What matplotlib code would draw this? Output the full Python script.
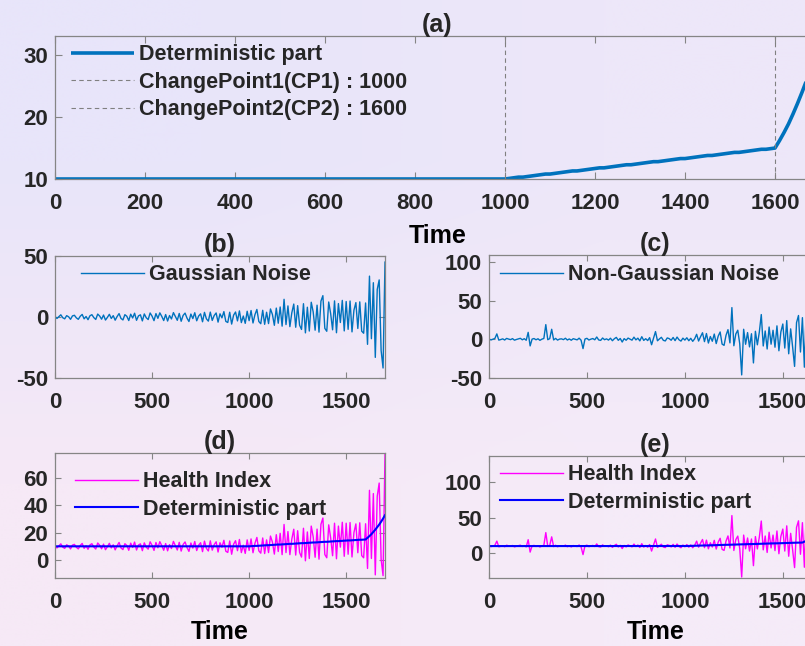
import matplotlib
import numpy as np

matplotlib.use("Agg")
import matplotlib.pyplot as plt
from matplotlib.lines import Line2D


# figure size in pixels (dpi 100)
W, H = 805, 646

# time axis: one sample every 10 time units
time = np.arange(0, 1701, 10)

change_points = [1000, 1600]

# deterministic degradation: flat, linear after CP1, exponential after CP2
deterministic = (
    [10.0] * 101
    + [10.1, 10.2, 10.3, 10.3, 10.4, 10.5, 10.6, 10.7, 10.8, 10.8, 10.9, 11.0,
       11.1, 11.2, 11.3, 11.3, 11.4, 11.5, 11.6, 11.7, 11.8, 11.8, 11.9, 12.0,
       12.1, 12.2, 12.3, 12.3, 12.4, 12.5, 12.6, 12.7, 12.8, 12.8, 12.9, 13.0,
       13.1, 13.2, 13.3, 13.3, 13.4, 13.5, 13.6, 13.7, 13.8, 13.8, 13.9, 14.0,
       14.1, 14.2, 14.3, 14.3, 14.4, 14.5, 14.6, 14.7, 14.8, 14.8, 14.9, 15.0]
    + [16.2, 17.5, 18.9, 20.5, 22.2, 24.0, 25.9, 28.0, 30.3, 32.8]
)

gaussian_noise = [
    0.5, -1.2, 0.3, 1.8, -0.6, -1.5, 1.1, 0.2, -1.9, 0.9,
    1.4, -0.7, -1.9, 0.6, 2.1, -1.5, 0.4, -2.2, 1.0, 1.9,
    -0.5, -2.0, 2.4, 0.8, -1.8, 1.6, -2.5, -0.3, 2.2, -1.2,
    1.1, -2.6, 0.4, 2.8, -1.2, -2.4, 1.9, 0.6, -2.9, 2.3,
    -0.8, 3.1, -2.7, 0.9, 1.8, -3.2, 2.5, -0.6, -2.1, 3.3,
    0.7, -3.0, 2.8, -1.1, 3.4, 0.5, -2.9, 2.0, -3.3, 1.2,
    -1.6, 3.6, 0.4, -2.7, 2.9, -3.5, 1.3, 3.2, -0.9, -3.7,
    2.4, -1.3, 3.5, -3.1, 0.8, 2.6, -3.9, 3.8, -1.5, -3.4,
    4.0, -2.8, 1.2, 3.3, -4.2, 2.6, -0.7, 4.4, -3.6, -4.5,
    3.9, -5.8, 1.5, 4.1, -3.2, 5.0, -4.6, 0.8, -5.2, 4.7,
    -3.0, 5.3, -4.9, 1.9, 6.2, -3.7, -5.5, 5.5, -6.0, 3.9,
    -5.4, 6.6, 2.1, -6.8, 7.3, -5.1, 8.2, -7.5, 14.5, -6.2,
    9.1, -7.9, 3.5, 10.6, -8.4, 9.3, -6.7, -10.2, 10.9, -13.0,
    8.0, -11.5, 12.1, 4.2, -10.8, 9.7, -12.4, 13.0, 17.5, -9.3,
    -11.7, 12.3, 2.8, -10.5, 13.2, -12.9, 11.0, -4.5, 13.6, -11.4,
    12.7, -10.1, 13.1, -12.2, 5.6, 11.8, -9.4, 12.4, -11.6, -13.3,
    11.5, -22.4, 33.5, -17.8, 28.1, -33.1, 22.6, 30.4, -27.5, -41.8, 45.0,
]

non_gaussian_noise = [
    0.4, -0.8, 0.2, 1.1, 7.0, -1.0, -0.3, 0.6, -0.9, 1.2,
    0.3, -0.4, 0.9, -1.1, -0.2, 0.5, 1.3, -0.6, 0.8, -1.2,
    9.0, -8.5, 0.3, 1.0, -0.6, 0.7, -1.3, 0.2, 1.1, 19.0,
    -0.5, 0.9, 13.0, -0.8, 1.2, -1.0, 0.3, 0.6, -0.4, 1.4,
    -0.9, 0.5, -1.2, 0.8, 0.1, -0.7, 1.5, -1.1, -12.0, 0.4,
    1.3, -0.9, 0.2, 1.0, -0.6, 3.0, -0.8, -1.4, 1.7, -0.5,
    0.6, -1.0, 1.4, -1.8, 0.8, 2.5, -1.3, 1.1, -3.5, 0.9,
    -1.2, 1.6, 0.3, -1.1, 2.8, -0.7, 1.5, -2.0, 3.4, -1.4,
    0.8, -1.6, 2.2, -7.0, 1.7, 10.0, -1.9, 0.5, 2.6, -1.3,
    -2.1, 1.8, 0.9, -1.2, 2.4, -1.7, 2.9, -0.6, -2.3, 1.5,
    -1.0, 2.0, -1.8, 1.3, -2.6, 0.7, 6.5, -2.2, 3.4, 8.5,
    -3.0, 7.5, -4.8, 3.6, -2.5, 6.8, -5.5, 4.1, 9.5, -6.2,
    -7.8, 5.2, 12.5, -4.6, 41.0, -8.3, 6.9, 11.8, -5.7, -46.0,
    13.0, -6.4, 8.7, -9.8, 7.2, -30.5, 10.4, -7.1, 9.3, 32.0,
    -8.6, 10.8, -12.5, 15.9, -6.3, 11.7, -10.2, 17.4, -14.8, 9.6,
    19.8, -11.3, 24.2, -18.7, 13.5, -9.9, -35.0, 21.6, 30.8, -16.4,
    28.0, -36.0, 44.0, -25.0, 58.0, -40.0, 36.0, 75.0, -30.0, 108.0, -22.0,
]

# health index = deterministic part + noise
health_gaussian = np.array(deterministic) + np.array(gaussian_noise)
health_non_gaussian = np.array(deterministic) + np.array(non_gaussian_noise)

BLUE = "#0072BD"
TEXT = "#262626"
FRAME = "#858585"

plt.rcParams["font.family"] = ["Liberation Sans", "DejaVu Sans"]
plt.rcParams["font.weight"] = "bold"
plt.rcParams["text.color"] = TEXT
plt.rcParams["axes.unicode_minus"] = False


def add_axes_px(fig, left, top, right, bottom):
    return fig.add_axes([left / W, 1 - bottom / H, (right - left) / W, (bottom - top) / H])


def style_axes(ax, xticks, yticks, ylim, title, ticklen=4):
    ax.set_facecolor("none")
    ax.set_xlim(0, 1700)
    ax.set_ylim(*ylim)
    ax.set_xticks(xticks)
    ax.set_yticks(yticks)
    for spine in ax.spines.values():
        spine.set_color(FRAME)
        spine.set_linewidth(0.9)
    ax.tick_params(direction="in", length=ticklen, width=0.8, color=FRAME,
                   top=True, right=True, labelsize=16, labelcolor=TEXT)
    ax.tick_params(axis="x", pad=10)
    ax.tick_params(axis="y", pad=5)
    ax.set_title(title, fontsize=18, fontweight="bold", pad=3)


def add_legend(ax, fig, handles, labels, left, top):
    leg = ax.legend(handles, labels, loc="upper left",
                    bbox_to_anchor=(left / W, 1 - top / H), bbox_transform=fig.transFigure,
                    borderaxespad=0, fontsize=15.5, handlelength=2.9, handletextpad=0.25,
                    labelspacing=0.3, borderpad=0.3, fancybox=False, framealpha=0)
    leg.get_frame().set_edgecolor("#555555")
    leg.get_frame().set_linewidth(1.0)
    return leg


fig = plt.figure(figsize=(W / 100, H / 100), dpi=100)

# soft lavender-to-pink backdrop
bg = fig.add_axes([0, 0, 1, 1], zorder=-10)
gradient = np.array([
    [[232, 229, 250], [237, 231, 249]],
    [[246, 233, 246], [245, 235, 248]],
]) / 255.0
bg.imshow(gradient, extent=[0, 1, 0, 1], aspect="auto", interpolation="bilinear")
bg.axis("off")

# (a) deterministic part
ax_a = add_axes_px(fig, 55, 36, 820, 179)
style_axes(ax_a, range(0, 1800, 200), [10, 20, 30], (10, 33.1), "(a)", ticklen=5)
(det_line,) = ax_a.plot(time, deterministic, color=BLUE, linewidth=2.6, solid_capstyle="butt")
for cp in change_points:
    ax_a.axvline(cp, color="#808080", linewidth=0.8, linestyle=(0, (4, 3)))
ax_a.set_xlabel("Time", fontsize=18, fontweight="bold", labelpad=7)
cp_handle = Line2D([], [], color="#808080", linewidth=0.8, linestyle=(0, (4, 3)))
add_legend(ax_a, fig, [det_line, cp_handle, cp_handle],
           ["Deterministic part", "ChangePoint1(CP1) : 1000", "ChangePoint2(CP2) : 1600"],
           65, 38)

# (b) gaussian noise
ax_b = add_axes_px(fig, 55, 256, 385, 378)
style_axes(ax_b, [0, 500, 1000, 1500], [-50, 0, 50], (-50, 50), "(b)")
(gn_line,) = ax_b.plot(time, gaussian_noise, color=BLUE, linewidth=1.0)
add_legend(ax_b, fig, [gn_line], ["Gaussian Noise"], 75, 258)

# (c) non-gaussian noise
ax_c = add_axes_px(fig, 489, 255, 822, 378)
style_axes(ax_c, [0, 500, 1000, 1500], [-50, 0, 50, 100], (-50, 109), "(c)")
(ngn_line,) = ax_c.plot(time, non_gaussian_noise, color=BLUE, linewidth=1.0)
add_legend(ax_c, fig, [ngn_line], ["Non-Gaussian Noise"], 494, 258)

# (d) health index with gaussian noise
ax_d = add_axes_px(fig, 55, 453, 385, 578)
style_axes(ax_d, [0, 500, 1000, 1500], [0, 20, 40, 60], (-13.2, 78.3), "(d)")
(hi_d,) = ax_d.plot(time, health_gaussian, color="#FF00FF", linewidth=1.0)
(det_d,) = ax_d.plot(time, deterministic, color="#0000FF", linewidth=1.5)
ax_d.set_xlabel("Time", fontsize=18, fontweight="bold", labelpad=5)
add_legend(ax_d, fig, [hi_d, det_d], ["Health Index", "Deterministic part"], 69, 465)

# (e) health index with non-gaussian noise
ax_e = add_axes_px(fig, 489, 456, 822, 578)
style_axes(ax_e, [0, 500, 1000, 1500], [0, 50, 100], (-35, 137), "(e)")
(hi_e,) = ax_e.plot(time, health_non_gaussian, color="#FF00FF", linewidth=1.0)
(det_e,) = ax_e.plot(time, deterministic, color="#0000FF", linewidth=1.5)
ax_e.set_xlabel("Time", fontsize=18, fontweight="bold", labelpad=5)
add_legend(ax_e, fig, [hi_e, det_e], ["Health Index", "Deterministic part"], 494, 458)

fig.savefig("out.png", dpi=100)
